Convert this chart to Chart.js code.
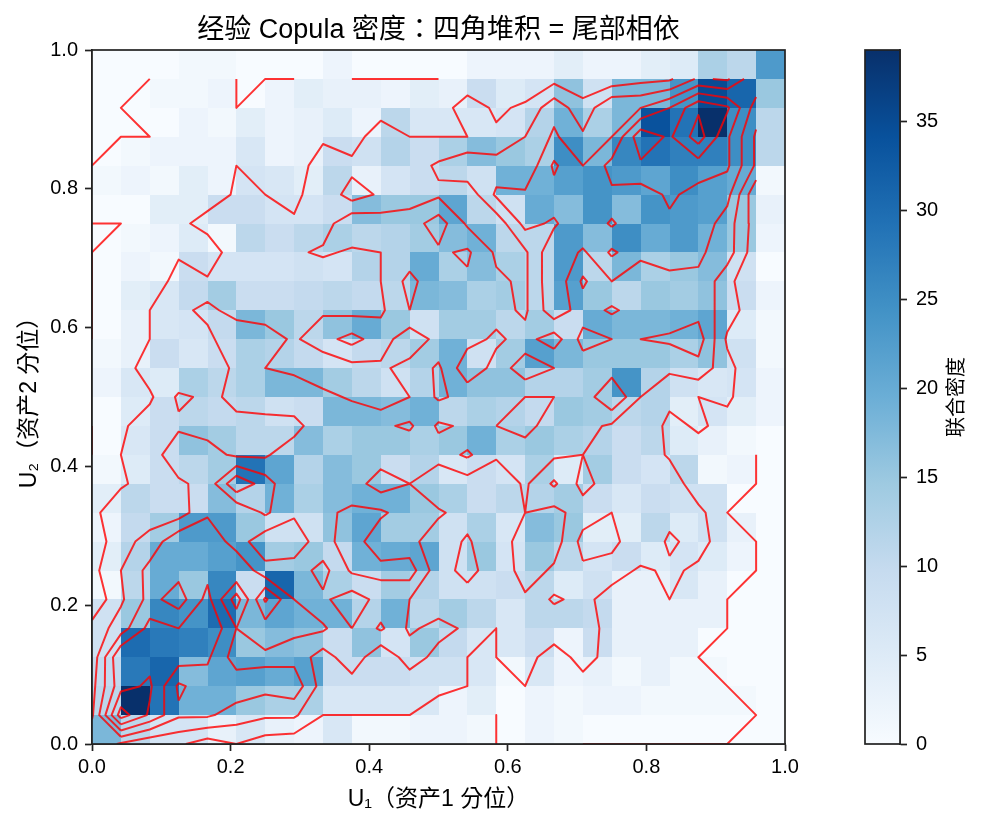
<!DOCTYPE html>
<html>
<head>
<meta charset="utf-8">
<title>Copula density</title>
<script src="https://cdn.jsdelivr.net/npm/chart.js@4/dist/chart.umd.min.js"></script>
<style>
    body { margin: 0; background: #fff; }
    canvas { position: absolute; left: 0; top: 0; }
</style>
</head>
<body>
<canvas id="density" width="984" height="825"></canvas>
<canvas id="colorbar" width="984" height="825"></canvas>
<script>
// counts per bin, first line is the top row (u2 close to 1), columns go along u1
let counts = [
    [0,0,0,1,1,0,0,0,2,0,0,0,0,2,2,2,4,2,2,4,5,13,11,23],
    [0,0,1,1,2,0,2,4,3,3,2,4,3,9,5,7,16,8,18,18,24,35,31,15],
    [0,0,0,2,1,4,2,3,5,2,11,6,6,6,7,12,19,13,18,34,29,39,25,11],
    [0,1,2,2,2,6,2,3,9,8,12,9,13,17,15,13,25,18,26,29,27,27,25,11],
    [1,2,1,4,2,7,6,4,11,3,7,9,11,8,19,19,22,24,23,21,25,22,20,1],
    [0,0,4,4,9,9,7,7,9,17,15,15,21,11,8,20,17,24,17,24,23,22,15,3],
    [0,1,2,5,1,11,9,11,13,11,12,14,17,19,11,11,23,17,25,20,23,19,15,2],
    [0,2,1,9,7,7,7,8,7,12,12,20,13,17,13,11,23,11,18,13,15,17,8,0],
    [0,4,6,10,14,9,9,10,11,10,11,18,17,13,14,11,22,15,11,15,14,16,9,2],
    [0,3,6,7,10,18,15,11,16,20,15,8,14,14,11,14,9,20,18,18,19,21,5,1],
    [1,3,9,6,9,13,12,10,7,10,11,14,19,8,14,22,18,15,15,15,13,16,8,1],
    [2,6,5,13,11,13,18,18,14,11,8,12,19,16,16,12,12,14,24,12,8,6,7,2],
    [0,5,9,11,10,11,8,9,18,18,17,19,11,13,12,10,15,14,11,12,4,7,4,2],
    [0,6,9,16,14,11,11,17,13,15,15,13,15,19,13,15,13,12,9,11,5,3,1,0],
    [1,5,9,11,14,29,21,12,17,15,9,12,6,9,7,13,5,14,9,7,11,1,2,0],
    [4,11,9,9,17,12,19,13,17,19,19,15,13,9,11,12,14,9,6,9,8,8,0,0],
    [2,10,14,23,23,15,8,8,16,21,14,14,8,13,6,17,15,4,4,11,5,8,3,0],
    [4,12,20,20,22,24,14,15,10,19,20,21,8,15,7,15,11,7,9,5,7,5,2,0],
    [1,11,20,15,26,9,31,18,13,9,14,12,8,8,9,11,5,8,3,3,6,3,0,0],
    [8,15,26,24,30,18,21,19,19,12,19,11,14,11,6,11,11,10,3,3,3,3,0,0],
    [8,30,28,27,25,15,17,16,9,16,7,15,10,6,6,9,2,9,3,3,3,0,0,0],
    [10,28,31,17,21,22,20,22,9,9,9,8,8,6,1,6,2,3,1,3,1,1,0,0],
    [11,39,29,19,19,15,13,13,6,6,6,6,2,4,0,2,1,2,2,1,1,1,1,0],
    [18,11,7,7,3,6,3,2,6,1,1,2,2,1,0,2,1,0,0,0,0,0,0,0]
];
let contourLevels = [0, 6, 12, 18, 24, 30, 36];
let axisTicks = [0, 0.2, 0.4, 0.6, 0.8, 1];
let colorbarTicks = [0, 5, 10, 15, 20, 25, 30, 35];
let maxCount = 39;

let titleText = "经验 Copula 密度：四角堆积 = 尾部相依";
let xLabel = "U₁（资产1 分位）";
let yLabel = "U₂（资产2 分位）";
let colorbarLabel = "联合密度";

let blues = ["#f7fbff", "#deebf7", "#c6dbef", "#9ecae1", "#6baed6", "#4292c6", "#2171b5", "#08519c", "#08306b"];
let fontFamily = '"Liberation Sans", "Noto Sans CJK TC", sans-serif';
let spineColor = "#222";

let binCount = counts.length;
let binWidth = 1 / binCount;

function hexToRgb(hex) {
    return [1, 3, 5].map(i => parseInt(hex.substr(i, 2), 16));
}

function bluesColor(value) {
    let t = Math.min(value / maxCount, 1) * (blues.length - 1);
    let i = Math.min(Math.floor(t), blues.length - 2);
    let a = hexToRgb(blues[i]);
    let b = hexToRgb(blues[i + 1]);
    let c = a.map((v, k) => Math.round(v + (b[k] - v) * (t - i)));
    return `rgb(${c[0]},${c[1]},${c[2]})`;
}

// value at a grid node, node (i, j) sits on the lower left corner of its bin
function nodeValue(i, j) {
    return counts[binCount - 1 - j][i];
}

function edgePoint(i0, j0, i1, j1, level) {
    let a = nodeValue(i0, j0);
    let b = nodeValue(i1, j1);
    let t = (level - a) / (b - a);
    return {
        x: (i0 + (i1 - i0) * t) * binWidth,
        y: (j0 + (j1 - j0) * t) * binWidth
    };
}

// marching squares over the bin corners
function contourSegments(level) {
    let segments = [];
    for (let j = 0; j < binCount - 1; j++) {
        for (let i = 0; i < binCount - 1; i++) {
            let bl = nodeValue(i, j), br = nodeValue(i + 1, j);
            let tr = nodeValue(i + 1, j + 1), tl = nodeValue(i, j + 1);
            let code = (bl > level ? 1 : 0) + (br > level ? 2 : 0) + (tr > level ? 4 : 0) + (tl > level ? 8 : 0);
            if (code === 0 || code === 15) continue;

            let bottom = () => edgePoint(i, j, i + 1, j, level);
            let right = () => edgePoint(i + 1, j, i + 1, j + 1, level);
            let top = () => edgePoint(i, j + 1, i + 1, j + 1, level);
            let left = () => edgePoint(i, j, i, j + 1, level);
            let centerAbove = (bl + br + tr + tl) / 4 > level;

            if (code === 1 || code === 14) segments.push([left(), bottom()]);
            else if (code === 2 || code === 13) segments.push([bottom(), right()]);
            else if (code === 3 || code === 12) segments.push([left(), right()]);
            else if (code === 4 || code === 11) segments.push([right(), top()]);
            else if (code === 6 || code === 9) segments.push([bottom(), top()]);
            else if (code === 7 || code === 8) segments.push([left(), top()]);
            else if ((code === 5) === centerAbove) {
                segments.push([bottom(), right()]);
                segments.push([left(), top()]);
            } else {
                segments.push([left(), bottom()]);
                segments.push([right(), top()]);
            }
        }
    }
    return segments;
}

function pointKey(p) {
    return p.x.toFixed(5) + "," + p.y.toFixed(5);
}

// joins the segments into polylines, NaN points separate them in the dataset
function contourPoints(level) {
    let segments = contourSegments(level);
    let used = segments.map(() => false);
    let byPoint = {};
    segments.forEach((s, n) => {
        s.forEach(p => {
            let key = pointKey(p);
            (byPoint[key] = byPoint[key] || []).push(n);
        });
    });

    function nextFrom(p) {
        let list = byPoint[pointKey(p)] || [];
        for (let n of list) {
            if (used[n]) continue;
            used[n] = true;
            let s = segments[n];
            return pointKey(s[0]) === pointKey(p) ? s[1] : s[0];
        }
        return null;
    }

    let points = [];
    segments.forEach((s, n) => {
        if (used[n]) return;
        used[n] = true;
        let line = [s[0], s[1]];
        let p;
        while ((p = nextFrom(line[line.length - 1]))) line.push(p);
        while ((p = nextFrom(line[0]))) line.unshift(p);
        points.push(...line, { x: NaN, y: NaN });
    });
    return points;
}

let heatmapPlugin = {
    id: "heatmap",
    beforeDatasetsDraw(chart) {
        let ctx = chart.ctx;
        let x = chart.scales.x;
        let y = chart.scales.y;
        for (let j = 0; j < binCount; j++) {
            for (let i = 0; i < binCount; i++) {
                let x0 = Math.round(x.getPixelForValue(i * binWidth));
                let x1 = Math.round(x.getPixelForValue((i + 1) * binWidth));
                let y0 = Math.round(y.getPixelForValue(j * binWidth));
                let y1 = Math.round(y.getPixelForValue((j + 1) * binWidth));
                ctx.fillStyle = bluesColor(nodeValue(i, j));
                ctx.fillRect(x0, y1, x1 - x0, y0 - y1);
            }
        }
    }
};

let framePlugin = {
    id: "frame",
    afterDraw(chart) {
        let a = chart.chartArea;
        let ctx = chart.ctx;
        ctx.save();
        ctx.strokeStyle = spineColor;
        ctx.lineWidth = 1.7;
        ctx.strokeRect(a.left, a.top, a.right - a.left, a.bottom - a.top);
        ctx.restore();
    }
};

let colorbarLabelPlugin = {
    id: "colorbarLabel",
    afterDraw(chart) {
        let ctx = chart.ctx;
        ctx.save();
        ctx.translate(957, (chart.chartArea.top + chart.chartArea.bottom) / 2);
        ctx.rotate(-Math.PI / 2);
        ctx.font = "20px " + fontFamily;
        ctx.fillStyle = "#000";
        ctx.textAlign = "center";
        ctx.textBaseline = "middle";
        ctx.fillText(colorbarLabel, 0, 0);
        ctx.restore();
    }
};

function fixedTicks(axis, values) {
    axis.ticks = values.map(v => ({ value: v }));
}

let tickStyle = {
    color: "#000",
    font: { family: fontFamily, size: 20 },
    padding: 7,
    maxRotation: 0,
    autoSkip: false
};

let tickGrid = {
    drawOnChartArea: false,
    drawTicks: true,
    tickLength: 7,
    tickWidth: 1.7,
    tickColor: spineColor
};

new Chart(document.getElementById("density"), {
    type: "scatter",
    data: {
        datasets: contourLevels.map(level => ({
            data: contourPoints(level),
            showLine: true,
            spanGaps: false,
            borderColor: "rgba(255,0,0,0.8)",
            borderWidth: 2,
            borderJoinStyle: "round",
            pointRadius: 0,
            tension: 0
        }))
    },
    options: {
        responsive: false,
        animation: false,
        layout: { padding: { right: 199 } },
        plugins: {
            legend: { display: false },
            tooltip: { enabled: false },
            title: {
                display: true,
                text: titleText,
                fullSize: false,
                color: "#000",
                font: { family: fontFamily, size: 27, weight: "normal", lineHeight: 1.2 },
                padding: { top: 14, bottom: 3.6 }
            }
        },
        scales: {
            x: {
                type: "linear",
                min: 0,
                max: 1,
                afterBuildTicks: axis => fixedTicks(axis, axisTicks),
                afterFit: axis => { axis.height = 81; },
                ticks: { ...tickStyle, padding: 4, callback: v => v.toFixed(1) },
                grid: tickGrid,
                border: { color: spineColor, width: 1.7 },
                title: {
                    display: true,
                    text: xLabel,
                    color: "#000",
                    font: { family: fontFamily, size: 23 },
                    padding: { top: 0, bottom: 12 }
                }
            },
            y: {
                type: "linear",
                min: 0,
                max: 1,
                afterBuildTicks: axis => fixedTicks(axis, axisTicks),
                afterFit: axis => { axis.width = 92; },
                ticks: { ...tickStyle, callback: v => v.toFixed(1) },
                grid: tickGrid,
                border: { color: spineColor, width: 1.7 },
                title: {
                    display: true,
                    text: yLabel,
                    color: "#000",
                    font: { family: fontFamily, size: 23 },
                    padding: { top: 16, bottom: 0 }
                }
            }
        }
    },
    plugins: [heatmapPlugin, framePlugin]
});

new Chart(document.getElementById("colorbar"), {
    type: "bar",
    data: {
        labels: [colorbarLabel],
        datasets: [{
            data: [[0, maxCount]],
            barPercentage: 1,
            categoryPercentage: 1,
            borderSkipped: false,
            backgroundColor(context) {
                let area = context.chart.chartArea;
                if (!area) return blues[0];
                let gradient = context.chart.ctx.createLinearGradient(0, area.bottom, 0, area.top);
                blues.forEach((c, i) => gradient.addColorStop(i / (blues.length - 1), c));
                return gradient;
            }
        }]
    },
    options: {
        responsive: false,
        animation: false,
        layout: { padding: { left: 865, top: 50, bottom: 81 } },
        plugins: {
            legend: { display: false },
            tooltip: { enabled: false }
        },
        scales: {
            x: { display: false },
            y: {
                position: "right",
                min: 0,
                max: maxCount,
                afterBuildTicks: axis => fixedTicks(axis, colorbarTicks),
                afterFit: axis => { axis.width = 84; },
                ticks: { ...tickStyle, padding: 9, align: "center", crossAlign: "near" },
                grid: tickGrid,
                border: { color: spineColor, width: 1.7 }
            }
        }
    },
    plugins: [framePlugin, colorbarLabelPlugin]
});
</script>
</body>
</html>
